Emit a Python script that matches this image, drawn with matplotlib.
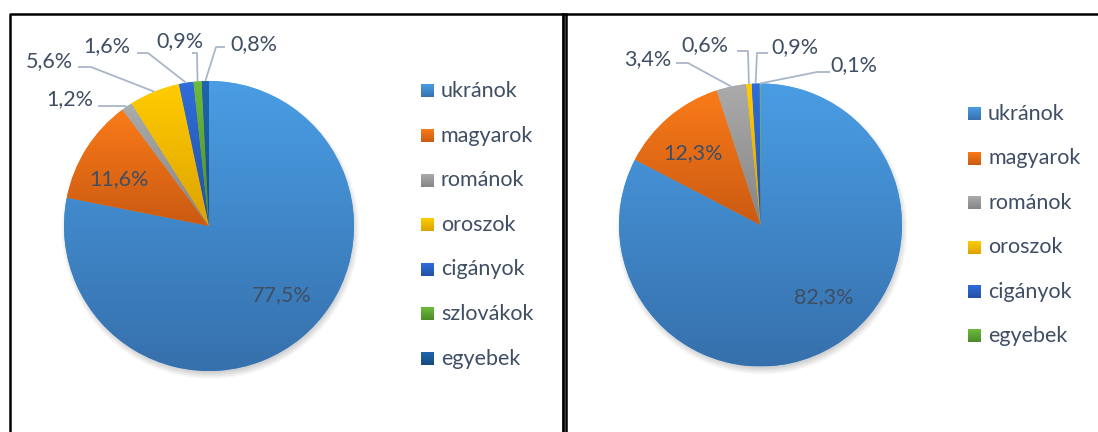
import matplotlib
matplotlib.use('Agg')
import matplotlib.pyplot as plt
from matplotlib.patches import Circle
from matplotlib.colors import to_rgb
import numpy as np

# data
categories_1 = ['ukránok', 'magyarok', 'románok', 'oroszok', 'cigányok', 'szlovákok', 'egyebek']
values_1 = [77.5, 11.6, 1.2, 5.6, 1.6, 0.9, 0.8]

categories_2 = ['ukránok', 'magyarok', 'románok', 'oroszok', 'cigányok', 'egyebek']
values_2 = [82.3, 12.3, 3.4, 0.6, 0.9, 0.1]

# light (top) / dark (bottom) gradient colours, Office style
grad = {
    'ukránok': ('#4A9DE4', '#3670AC'),
    'magyarok': ('#FA7B19', '#CA5A12'),
    'románok': ('#ABABAB', '#858585'),
    'oroszok': ('#FFCC00', '#DDA200'),
    'cigányok': ('#2F6DDB', '#2450A4'),
    'szlovákok': ('#6DBB3C', '#4C8A2A'),
    'egyebek': ('#1F66AD', '#164B80'),
}
grad_2 = dict(grad)
grad_2['egyebek'] = grad['szlovákok']

W, H = 1098, 432
txt_col = '#3F4E63'
line_col = '#A9B6C8'
fs = 15.5
plt.rcParams['font.family'] = ['Lato', 'DejaVu Sans']

fig = plt.figure(figsize=(W / 100, H / 100), dpi=100)
ax = fig.add_axes([0, 0, 1, 1])


def Y(p):
    return H - p


def fmt(v):
    return ('%.1f%%' % v).replace('.', ',')


def gradient(x0, x1, y0, y1, key, colors, clip=None):
    top, bot = np.array(to_rgb(colors[key][0])), np.array(to_rgb(colors[key][1]))
    t = np.linspace(0, 1, 200)[:, None, None]
    img = top * (1 - t) + bot * t
    im = ax.imshow(img, extent=(x0, x1, y0, y1), origin='upper',
                   aspect='auto', zorder=3, interpolation='bilinear')
    if clip is not None:
        im.set_clip_path(clip)


def draw_pie(cats, vals, colors, cx, cy, r, inside, outside, leg_x, leg_y0, leg_dy):
    c = (cx, Y(cy))
    # soft shadow
    for i in range(10):
        ax.add_patch(Circle((cx + 1.5, Y(cy) - 4), r + 4 - i * 0.8, color='black',
                            alpha=0.018, lw=0, zorder=1))
    wedges, _ = ax.pie(vals, radius=r, center=c, startangle=90, counterclock=False,
                       colors=[colors[k][0] for k in cats],
                       wedgeprops=dict(linewidth=0, zorder=2))
    for w, k in zip(wedges, cats):
        bb = w.get_path().get_extents()
        gradient(bb.x0, bb.x1, bb.y0, bb.y1, k, colors, clip=w)
    total = sum(vals)
    cum = 0
    for w, k, v in zip(wedges, cats, vals):
        mid = 90 - (cum + v / 2) / total * 360
        cum += v
        ex = cx + r * np.cos(np.radians(mid))
        ey = Y(cy) + r * np.sin(np.radians(mid))
        if k in inside:
            tx, ty = inside[k]
            ax.text(tx, Y(ty), fmt(v), ha='center', va='center', fontsize=fs,
                    color=txt_col, zorder=5)
        elif k in outside:
            (tx, ty), s, e = outside[k]
            ax.text(tx, Y(ty), fmt(v), ha='center', va='center', fontsize=fs,
                    color=txt_col, zorder=5)
            ax.plot([s[0], e[0], ex], [Y(s[1]), Y(e[1]), ey], color=line_col,
                    lw=1.3, zorder=4, solid_capstyle='butt')
    for i, k in enumerate(cats):
        yy = leg_y0 + i * leg_dy
        gradient(leg_x, leg_x + 13, Y(yy) - 6.5, Y(yy) + 6.5, k, colors)
        ax.text(leg_x + 20, Y(yy), k, ha='left', va='center', fontsize=fs, color=txt_col)


draw_pie(categories_1, values_1, grad, 209, 226, 145,
         inside={'ukránok': (282, 295), 'magyarok': (119, 179)},
         outside={'románok': ((70, 99), (98, 106), (124, 106)),
                  'oroszok': ((49, 61), (78, 67), (91, 67)),
                  'cigányok': ((107, 46), (137, 53), (148, 53)),
                  'szlovákok': ((180, 41), (192, 53), (197, 53)),
                  'egyebek': ((254, 44), (225, 47), (216, 47))},
         leg_x=421, leg_y0=91, leg_dy=44.6)

draw_pie(categories_2, values_2, grad_2, 760.5, 225, 141.5,
         inside={'ukránok': (824, 297), 'magyarok': (693, 153)},
         outside={'románok': ((648, 59), (676, 63), (688, 63)),
                  'oroszok': ((705, 45.5), (737, 51), (748, 51)),
                  'cigányok': ((795, 47.5), (768, 53), (757, 53)),
                  'egyebek': ((854, 65.5), (830, 72), (817, 72))},
         leg_x=968, leg_y0=114, leg_dy=44.4)

# panel borders
ax.plot([9.5, 9.5, 563], [0, Y(14), Y(14)], color='black', lw=1.8)
ax.plot([563, 563], [0, Y(14)], color='black', lw=2)
ax.plot([566, 566, W], [0, Y(14), Y(14)], color='black', lw=1.8)
ax.plot([563, 566], [Y(14), Y(14)], color='black', lw=1.8)

ax.set_xlim(0, W)
ax.set_ylim(0, H)
ax.set_aspect('auto')
ax.axis('off')
fig.savefig('out.png', dpi=100)
